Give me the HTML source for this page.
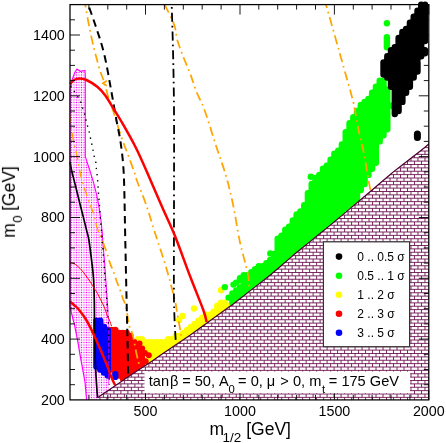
<!DOCTYPE html>
<html><head><meta charset="utf-8"><title>plot</title>
<style>html,body{margin:0;padding:0;background:#fff;overflow:hidden}body{width:446px;height:443px;position:relative;font-family:"Liberation Sans",sans-serif}</style></head>
<body>
<svg width="446" height="443" viewBox="0 0 446 443" style="position:absolute;left:0;top:0;font-family:'Liberation Sans',sans-serif">
<defs>
<pattern id="stip" patternUnits="userSpaceOnUse" x="1" y="2" width="5" height="5"><rect width="5" height="5" fill="#ffd0ff"/><rect x="0" y="0" width="1" height="1" fill="#ff00ff"/><rect x="1" y="0" width="1" height="1" fill="#ffd1ff"/><rect x="2" y="0" width="1" height="1" fill="#ff80ff"/><rect x="3" y="0" width="1" height="1" fill="#ff73ff"/><rect x="4" y="0" width="1" height="1" fill="#ffd1ff"/><rect x="0" y="1" width="1" height="1" fill="#ffd1ff"/><rect x="1" y="1" width="1" height="1" fill="#fff7ff"/><rect x="2" y="1" width="1" height="1" fill="#ffe8ff"/><rect x="3" y="1" width="1" height="1" fill="#ffe6ff"/><rect x="4" y="1" width="1" height="1" fill="#fff7ff"/><rect x="0" y="2" width="1" height="1" fill="#ff80ff"/><rect x="1" y="2" width="1" height="1" fill="#ffe8ff"/><rect x="2" y="2" width="1" height="1" fill="#ffbfff"/><rect x="3" y="2" width="1" height="1" fill="#ffb9ff"/><rect x="4" y="2" width="1" height="1" fill="#ffe8ff"/><rect x="0" y="3" width="1" height="1" fill="#ff73ff"/><rect x="1" y="3" width="1" height="1" fill="#ffe6ff"/><rect x="2" y="3" width="1" height="1" fill="#ffb9ff"/><rect x="3" y="3" width="1" height="1" fill="#ffb2ff"/><rect x="4" y="3" width="1" height="1" fill="#ffe6ff"/><rect x="0" y="4" width="1" height="1" fill="#ffd1ff"/><rect x="1" y="4" width="1" height="1" fill="#fff7ff"/><rect x="2" y="4" width="1" height="1" fill="#ffe8ff"/><rect x="3" y="4" width="1" height="1" fill="#ffe6ff"/><rect x="4" y="4" width="1" height="1" fill="#fff7ff"/></pattern>
<clipPath id="tri"><path d="M97.6 397.7L98 397.4L100 396L110 389.2L120 382.4L126 378.3L130 375.6L140 369L150 362.4L154 359.7L160 355.6L170 348.8L180 342L190 335.2L200 328L210 320.8L220 313.6L230 306.3L232 304.9L240 298.7L250 290.9L260 283.1L270 275.2L280 266.7L290 258.1L295 253.8L300 249.7L310 241.6L320 233.5L330 225.4L335 221.3L340 217.1L350 208.6L360 200.2L370 191.7L380 183.2L390 174.8L394 171.4L400 166.7L410 159L420 151.2L425 147.3L428.8 144L428.8 399.9L97.6 399.9Z"/></clipPath>
</defs>
<rect width="446" height="443" fill="#fff"/>
<path d="M70 89L72 80L75 72L77 69L80.2 71.3L85 70.5L85.3 75L85.3 156.6L89.7 170L93.6 182.6L96.8 195.3L99.2 207.9L101 220.5L102.3 233.2L102.8 242L104.7 263.7L106.3 287.4L107.9 310L108.8 325L108.8 385L108.8 399.9L86.6 399.9L85 382L83.4 373.2L80.5 357.4L77.8 341.6L74.7 325.8L70.7 310L70 307Z" fill="url(#stip)"/>
<path d="M134.2 345.9v0M138 339.1v24.3M141.8 339.1v27.4M145.5 342.1v21.3M149.3 342.1v18.2M153.1 342.1v15.2M156.9 342.1v12.2M160.6 342.1v12.2M164.4 342.1v9.1M168.2 339.1v9.1M172 339.1v6.1M175.8 336v6.1M179.5 336v3M183.3 333v6.1M187.1 330v6.1M190.9 326.9v6.1M194.6 323.9v6.1M198.4 320.8v6.1M202.2 317.8v6.1M206 314.8v6.1M209.7 314.8v3M213.5 311.7v3M217.3 305.6v9.1M221.1 302.6v9.1M224.9 302.6v6.1M228.6 305.6v0" fill="none" stroke="#ff0" stroke-width="6.4" stroke-linecap="round"/>
<circle cx="194" cy="308.5" r="3.2" fill="#ff0"/><circle cx="182.5" cy="316" r="3.2" fill="#ff0"/><circle cx="179.1" cy="320" r="3.2" fill="#ff0"/><circle cx="221" cy="290.2" r="3.2" fill="#ff0"/>
<path d="M228.6 297.6v0M232.4 293.5v9.1M236.2 290.4v9.1M240 278.3v0M240 287.4v9.1M243.7 275.2v18.2M247.5 275.2v15.2M251.3 272.2v15.2M255.1 269.1v15.2M258.8 266.1v15.2M262.6 266.1v12.2M266.4 263.1v12.2M270.2 260v12.2M273.9 253.9v15.2M277.7 238.7v27.4M281.5 235.7v27.4M285.3 229.6v30.4M289.1 226.6v30.4M292.8 220.5v33.4M296.6 214.4v36.5M300.4 211.4v36.5M304.2 205.3v39.5M307.9 193.1v48.7M311.7 184v54.7M315.5 177.9v57.8M319.3 174.9v57.8M323 168.8v60.8M326.8 165.8v60.8M330.6 159.7v63.9M334.4 153.6v66.9M338.2 150.6v66.9M341.9 144.5v69.9M345.7 132.3v76M349.5 123.2v82.1M353.3 117.1v85.1M357 111v88.2M360.8 104.9v85.1M364.6 101.9v82.1M368.4 98.9v76M372.1 92.8v76M375.9 86.7v76M379.7 80.6v60.8M383.5 80.6v54.7M387.3 89.7v39.5M391 105.8v0" fill="none" stroke="#0f0" stroke-width="6.4" stroke-linecap="round"/>
<circle cx="224.8" cy="287.1" r="3.2" fill="#0f0"/><circle cx="386.9" cy="23.3" r="3.2" fill="#0f0"/><circle cx="310.8" cy="176.7" r="3.2" fill="#0f0"/><circle cx="270.3" cy="253.4" r="3.2" fill="#0f0"/><circle cx="233.5" cy="284.6" r="3.2" fill="#0f0"/><circle cx="236.2" cy="282.6" r="3.2" fill="#0f0"/><circle cx="240" cy="280" r="3.2" fill="#0f0"/><circle cx="243.7" cy="277.6" r="3.2" fill="#0f0"/><circle cx="247.5" cy="275.2" r="3.2" fill="#0f0"/>
<path d="M386.9 37.3L386.9 47.2" stroke="#0f0" stroke-width="6.4" stroke-linecap="round" fill="none"/>
<path d="M383.5 62.4v12.2M387.3 56.3v21.3M391 50.2v36.5M394.8 47.2v66.9M398.6 38v73M402.4 32v69.9M406.1 28.9v63.9M409.9 22.8v63.9M413.7 16.8v60.8M417.5 10.7v48.7M417.5 62.4v9.1M421.2 4.6v51.7M425 4.6v36.5M425 50.2v3" fill="none" stroke="#000" stroke-width="6.4" stroke-linecap="round"/>
<path d="M417.4 134L417.4 137.5" stroke="#000" stroke-width="7" stroke-linecap="round" fill="none"/>
<path d="M111.5 330v39.5M115.3 330v42.6M119.1 333v42.6M122.9 333v45.6M126.7 333v42.6M130.4 336v36.5M134.2 342.1v27.4M138 348.2v21.3M141.8 354.3v12.2M145.5 361.4v0" fill="none" stroke="#f00" stroke-width="6.4" stroke-linecap="round"/>
<circle cx="148.8" cy="355.2" r="3" fill="#f00"/><circle cx="139.5" cy="343.5" r="3" fill="#f00"/><circle cx="142.2" cy="348.5" r="3" fill="#f00"/><circle cx="145" cy="353" r="3" fill="#f00"/>
<path d="M96.4 320.8v45.6M100.2 320.8v48.7M104 326.9v45.6M107.8 330v45.6" fill="none" stroke="#00f" stroke-width="6.4" stroke-linecap="round"/>
<path d="M115.3 374.2L115.3 377" stroke="#00f" stroke-width="6.2" stroke-linecap="round" fill="none"/>
<path d="M70 89C70 89 72 80 72 80C72 80 75 72 75 72C75 72 77 69 77 69C77 69 80.2 71.3 80.2 71.3C80.2 71.3 85 70.5 85 70.5C85 70.5 85.3 75 85.3 75C85.3 75 85.3 156.6 85.3 156.6C85.3 156.6 89.7 170 89.7 170C89.7 170 93.6 182.6 93.6 182.6C93.6 182.6 96.8 195.3 96.8 195.3C96.8 195.3 99.2 207.9 99.2 207.9C99.2 207.9 101 220.5 101 220.5C101 220.5 102.3 233.2 102.3 233.2C102.3 233.2 102.8 242 102.8 242C102.8 242 104.7 263.7 104.7 263.7C104.7 263.7 106.3 287.4 106.3 287.4C106.3 287.4 107.9 310 107.9 310" fill="none" stroke="#f0f" stroke-width="1.1"/>
<path d="M107.9 310C107.9 310 108.8 325 108.8 325C108.8 325 108.8 385 108.8 385" fill="none" stroke="#f0f" stroke-width="0.7"/>
<path d="M70 89C70 89 70 300 70 300C70 300 70 307 70 307C70 307 70.7 310 70.7 310C70.7 310 74.7 325.8 74.7 325.8C74.7 325.8 77.8 341.6 77.8 341.6C77.8 341.6 80.5 357.4 80.5 357.4C80.5 357.4 83.4 373.2 83.4 373.2C83.4 373.2 85 382 85 382C85 382 86.6 399.9 86.6 399.9" fill="none" stroke="#f0f" stroke-width="1.2"/>
<path d="M70 112C70 113 69.5 113.6 70 118C70.5 122.4 72 132.6 73 138.4C74 144.2 75.1 146.9 76.3 152.7C77.5 158.5 79.1 167.9 80.2 173C81.3 178.1 82.1 180.2 83 183.4C83.9 186.6 84.7 189 85.7 192C86.7 195 87.9 198.8 88.9 201.6C89.9 204.4 90.7 206.1 91.7 208.7C92.7 211.3 93.9 214.4 94.7 217.4C95.5 220.4 95.9 223.9 96.8 226.9C97.7 229.9 99 233 100 235.6C101 238.2 102.5 241.3 103 242.4" fill="none" stroke="#ffa500" stroke-width="1.4" stroke-dasharray="9 4 1.7 4" stroke-dashoffset="-2.4"/>
<path d="M103 242.4C103.7 244.2 105.8 249.9 107 253.4C108.2 256.9 109.1 260.7 110.2 263.7C111.3 266.7 112.3 268.7 113.4 271.6C114.5 274.5 115.5 278.1 116.6 281C117.6 283.9 118.7 286.1 119.7 289C120.8 291.9 121.9 295.5 122.9 298.5C124 301.5 125 302.6 126 307C127 311.4 128 320.7 129.1 325.2C130.2 329.7 131.6 330.9 132.5 334C133.4 337.1 133.9 340.7 134.6 344.1C135.3 347.5 135.9 351.2 136.6 354.3C137.3 357.4 138 360.1 138.6 362.4C139.2 364.7 139.8 367.1 140 368" fill="none" stroke="#ffa500" stroke-width="1.75" stroke-dasharray="9 4 1.7 4"/>
<path d="M85.2 4.7C85.9 8.4 87.8 19.4 89.3 27C90.8 34.5 92.6 42.8 94.4 50C96.2 57.2 98.3 65 100 70.5C101.7 76 103.4 79 104.7 83.2C106 87.4 106.5 91.1 107.9 95.8C109.4 100.5 111.2 104.8 113.4 111.6C115.6 118.4 118.8 129.5 121.3 136.9C123.8 144.3 126.2 149.8 128.4 155.8C130.6 161.9 133.2 168.8 134.7 173.2C136.2 177.6 135.5 176.8 137.4 182C139.3 187.2 143.1 195.9 146 204.3C148.9 212.7 151.5 221.9 154.8 232.3C158.1 242.8 162.7 255.8 166 267C169.3 278.2 172.8 291.7 174.7 299.3C176.5 306.9 176.4 308.6 177.1 312.6C177.8 316.6 178.4 319.6 179.1 323.5C179.8 327.4 180.8 333.7 181.2 335.7" fill="none" stroke="#ffa500" stroke-width="1.75" stroke-dasharray="9 4 1.7 4" stroke-dashoffset="6"/>
<path d="M164.7 4.7C166.3 8.1 172.1 19 174.2 24.8C176.3 30.6 175.7 34.3 177.2 39.7C178.7 45.1 181.2 51.4 183.4 57.1C185.6 62.8 188.1 68.2 190.3 74C192.5 79.8 194.1 85.9 196.5 91.9C198.9 97.9 201.3 101.2 204.5 110C207.7 118.8 212.2 133.9 215.7 144.7C219.2 155.4 222.7 164.6 225.6 174.5C228.5 184.4 230.7 193.4 233 204.3C235.3 215.2 237.6 230.9 239.5 240C241.4 249.1 242.9 253.7 244.2 259C245.5 264.3 246.6 267.8 247.4 271.6C248.2 275.4 248.7 279.4 249 282C249.3 284.6 249.2 286.2 249.3 287" fill="none" stroke="#ffa500" stroke-width="1.75" stroke-dasharray="9 4 1.7 4"/>
<path d="M326 4.7C328.1 12 334.1 33.1 338.4 48.5C342.7 63.9 349.3 86.8 352 97C354.7 107.2 353.7 104.2 354.8 109.7C355.9 115.2 357.1 122.9 358.6 130C360.1 137.1 362.2 144.7 363.7 152.3C365.2 159.9 366.6 169.4 367.7 175.7C368.8 182 369.9 187.6 370.4 190" fill="none" stroke="#ffa500" stroke-width="1.75" stroke-dasharray="9 4 1.7 4" stroke-dashoffset="5.5"/>
<path d="M106.8 80.8L102.8 83.3L106.8 85.8" fill="none" stroke="#ffa500" stroke-width="1.6"/>
<path d="M171.7 4.7C171.9 12.2 172.6 32.5 173 50C173.4 67.5 173.8 83.3 174 110C174.2 136.7 174 178.3 174 210C174 241.7 173.7 278.3 174 300C174.3 321.7 175.4 333.7 175.7 340.4" fill="none" stroke="#000" stroke-width="1.8" stroke-dasharray="9 4 1.7 4" stroke-dashoffset="10.5"/>
<path d="M88.2 4.7C89.5 8.4 93.3 18.8 96 27C98.7 35.2 101.7 43.8 104.2 54.2C106.7 64.6 109 78.4 111 89.4C113 100.4 114.8 111.3 116.4 120C118 128.7 119.4 134.1 120.5 141.6C121.6 149.1 122.6 156.9 123.2 165C123.8 173.1 124 178.2 124.3 190C124.6 201.8 124.8 216 125.2 236C125.6 256 126.4 291.8 126.8 310C127.2 328.2 127.4 334 127.6 345C127.8 356 128.1 370.8 128.2 376" fill="none" stroke="#000" stroke-width="2" stroke-dasharray="7.5 5" stroke-dashoffset="9.3"/>
<path d="M70.5 86C70.9 86.6 71.9 87.9 73 89.5C74.1 91.1 75.8 94 77 95.8C78.2 97.6 79.4 98.8 80.2 100.5C81 102.2 81.1 104 81.8 106C82.5 108 83.5 110.3 84.2 112.4C84.9 114.5 85.2 116.6 85.7 118.7C86.2 120.8 86.8 123 87.3 125C87.8 127 88.4 128.5 88.9 130.5C89.4 132.5 89.8 134.8 90.2 136.9C90.7 139 91.1 141.1 91.6 143.2C92 145.3 92.5 147.4 92.9 149.5C93.3 151.6 93.6 153.8 94.1 155.8C94.6 157.9 95.3 159.8 95.7 161.8C96.1 163.8 96.1 165.9 96.3 168C96.5 170.1 96.9 172.4 97.1 174.5C97.3 176.6 97.4 178.3 97.6 180.3C97.8 182.3 97.8 184.5 98 186.6C98.2 188.7 98.3 190.8 98.5 192.9C98.7 195 98.8 197 99 199.2C99.2 201.4 99.3 203.8 99.5 206C99.7 208.2 99.8 210.3 100 212.3C100.2 214.3 100.2 216.2 100.4 218.2C100.6 220.2 100.7 222.4 100.9 224.5C101.1 226.6 101.3 228.7 101.5 230.8C101.7 232.9 101.6 231.6 102 237C102.4 242.4 103.5 256.7 104 263C104.5 269.3 104.5 270.5 104.8 275C105.1 279.5 105.5 284.2 106 290C106.5 295.8 107.1 303.3 107.5 310C107.9 316.7 108.3 317.5 108.6 330C108.9 342.5 109.3 375.8 109.4 385" fill="none" stroke="#000" stroke-width="1.4" stroke-dasharray="1.4 4.8"/>
<path d="M70 162C70.2 163.3 70.6 166 71.5 170C72.4 174 74.2 180.5 75.5 185.8C76.8 191.1 78.1 196.3 79.4 201.6C80.7 206.9 82.2 212.7 83.4 217.4C84.6 222.1 85.6 226.2 86.5 230C87.4 233.8 88 234.4 88.9 240C89.8 245.6 91.2 257.1 92 263.7C92.8 270.3 93.2 273.4 93.6 279.5C94 285.6 94.1 291.6 94.3 300C94.5 308.4 94.4 320 94.6 330C94.8 340 94.9 350.8 95.2 360C95.5 369.2 96.2 378.7 96.6 385C97 391.3 97.4 395.8 97.6 398" fill="none" stroke="#000" stroke-width="1.7"/>
<path d="M70 262C70.9 262.4 73.5 263.1 75.5 264.5C77.5 265.9 79.4 267.6 81.8 270.4C84.2 273.1 87.5 277.9 89.7 281C91.9 284.1 93.4 287.1 94.7 289.2C96 291.3 96.1 290.8 97.6 293.7C99.1 296.6 102.3 302.7 103.9 306.3C105.5 309.9 106.2 312.8 107.1 315.1C108 317.4 108.7 318.2 109.4 320C110.1 321.8 111.2 325 111.5 326" fill="none" stroke="#f00" stroke-width="1.0"/>
<path d="M70 84C70.7 83.3 72.4 80.9 74 80C75.6 79.1 77.3 78.4 79.4 78.4C81.5 78.4 83.5 78.6 86.5 80C89.5 81.4 94.4 84.4 97.6 87C100.8 89.6 102.9 92.2 105.5 95.8C108.1 99.4 110.9 104.5 113.4 108.5C115.9 112.5 116.7 113.4 120.5 120C124.3 126.6 131.1 138.2 136 148C140.9 157.8 145.5 168.8 150 179C154.5 189.2 158.8 199.5 163 209C167.2 218.5 170.5 224.8 175 236C179.5 247.2 185.3 263.7 190 276C194.7 288.3 200.5 302.3 203.3 310C206.1 317.7 206.1 320 206.6 322" fill="none" stroke="#f00" stroke-width="2.5"/>
<path d="M70 301.6C70.7 302.2 72.5 303.6 74 305C75.5 306.4 76.9 307.2 78.9 309.7C81 312.2 84 316.1 86.3 320C88.6 323.9 90.7 328.2 93 333C95.3 337.8 98 343.8 100.2 349C102.5 354.2 104.4 358.8 106.5 364C108.6 369.2 111.1 376.5 112.6 380C114.1 383.5 114.8 384.3 115.3 385.2" fill="none" stroke="#f00" stroke-width="2.5"/>
<path d="M97.6 397.7L98 397.4L100 396L110 389.2L120 382.4L126 378.3L130 375.6L140 369L150 362.4L154 359.7L160 355.6L170 348.8L180 342L190 335.2L200 328L210 320.8L220 313.6L230 306.3L232 304.9L240 298.7L250 290.9L260 283.1L270 275.2L280 266.7L290 258.1L295 253.8L300 249.7L310 241.6L320 233.5L330 225.4L335 221.3L340 217.1L350 208.6L360 200.2L370 191.7L380 183.2L390 174.8L394 171.4L400 166.7L410 159L420 151.2L425 147.3L428.8 144L428.8 399.9L97.6 399.9Z" fill="#fff"/>
<g clip-path="url(#tri)" stroke="#670748" stroke-width="0.85" fill="none"><path d="M97 140.88H430M97 144.25H430M97 147.62H430M97 151H430M97 154.38H430M97 157.75H430M97 161.12H430M97 164.5H430M97 167.88H430M97 171.25H430M97 174.62H430M97 178H430M97 181.38H430M97 184.75H430M97 188.12H430M97 191.5H430M97 194.88H430M97 198.25H430M97 201.62H430M97 205H430M97 208.38H430M97 211.75H430M97 215.12H430M97 218.5H430M97 221.88H430M97 225.25H430M97 228.62H430M97 232H430M97 235.38H430M97 238.75H430M97 242.12H430M97 245.5H430M97 248.88H430M97 252.25H430M97 255.62H430M97 259H430M97 262.38H430M97 265.75H430M97 269.12H430M97 272.5H430M97 275.88H430M97 279.25H430M97 282.62H430M97 286H430M97 289.38H430M97 292.75H430M97 296.12H430M97 299.5H430M97 302.88H430M97 306.25H430M97 309.62H430M97 313H430M97 316.38H430M97 319.75H430M97 323.12H430M97 326.5H430M97 329.88H430M97 333.25H430M97 336.62H430M97 340H430M97 343.38H430M97 346.75H430M97 350.12H430M97 353.5H430M97 356.88H430M97 360.25H430M97 363.62H430M97 367H430M97 370.38H430M97 373.75H430M97 377.12H430M97 380.5H430M97 383.88H430M97 387.25H430M97 390.62H430M97 394H430M97 397.38H430"/><path d="M428.46 140.88v3.38M424.96 144.25v3.38M421.47 147.62v3.38M428.46 147.62v3.38M417.97 151v3.38M424.96 151v3.38M414.48 154.38v3.38M421.47 154.38v3.38M428.46 154.38v3.38M410.98 157.75v3.38M417.97 157.75v3.38M424.96 157.75v3.38M407.49 161.12v3.38M414.48 161.12v3.38M421.47 161.12v3.38M428.46 161.12v3.38M403.99 164.5v3.38M410.98 164.5v3.38M417.97 164.5v3.38M424.96 164.5v3.38M393.5 167.88v3.38M400.5 167.88v3.38M407.49 167.88v3.38M414.48 167.88v3.38M421.47 167.88v3.38M428.46 167.88v3.38M390.01 171.25v3.38M397 171.25v3.38M403.99 171.25v3.38M410.98 171.25v3.38M417.97 171.25v3.38M424.96 171.25v3.38M386.51 174.62v3.38M393.5 174.62v3.38M400.5 174.62v3.38M407.49 174.62v3.38M414.48 174.62v3.38M421.47 174.62v3.38M428.46 174.62v3.38M383.02 178v3.38M390.01 178v3.38M397 178v3.38M403.99 178v3.38M410.98 178v3.38M417.97 178v3.38M424.96 178v3.38M379.52 181.38v3.38M386.51 181.38v3.38M393.5 181.38v3.38M400.5 181.38v3.38M407.49 181.38v3.38M414.48 181.38v3.38M421.47 181.38v3.38M428.46 181.38v3.38M376.03 184.75v3.38M383.02 184.75v3.38M390.01 184.75v3.38M397 184.75v3.38M403.99 184.75v3.38M410.98 184.75v3.38M417.97 184.75v3.38M424.96 184.75v3.38M372.54 188.12v3.38M379.52 188.12v3.38M386.51 188.12v3.38M393.5 188.12v3.38M400.5 188.12v3.38M407.49 188.12v3.38M414.48 188.12v3.38M421.47 188.12v3.38M428.46 188.12v3.38M369.04 191.5v3.38M376.03 191.5v3.38M383.02 191.5v3.38M390.01 191.5v3.38M397 191.5v3.38M403.99 191.5v3.38M410.98 191.5v3.38M417.97 191.5v3.38M424.96 191.5v3.38M365.55 194.88v3.38M372.54 194.88v3.38M379.52 194.88v3.38M386.51 194.88v3.38M393.5 194.88v3.38M400.5 194.88v3.38M407.49 194.88v3.38M414.48 194.88v3.38M421.47 194.88v3.38M428.46 194.88v3.38M362.05 198.25v3.38M369.04 198.25v3.38M376.03 198.25v3.38M383.02 198.25v3.38M390.01 198.25v3.38M397 198.25v3.38M403.99 198.25v3.38M410.98 198.25v3.38M417.97 198.25v3.38M424.96 198.25v3.38M358.56 201.62v3.38M365.55 201.62v3.38M372.54 201.62v3.38M379.52 201.62v3.38M386.51 201.62v3.38M393.5 201.62v3.38M400.5 201.62v3.38M407.49 201.62v3.38M414.48 201.62v3.38M421.47 201.62v3.38M428.46 201.62v3.38M355.06 205v3.38M362.05 205v3.38M369.04 205v3.38M376.03 205v3.38M383.02 205v3.38M390.01 205v3.38M397 205v3.38M403.99 205v3.38M410.98 205v3.38M417.97 205v3.38M424.96 205v3.38M351.57 208.38v3.38M358.56 208.38v3.38M365.55 208.38v3.38M372.54 208.38v3.38M379.52 208.38v3.38M386.51 208.38v3.38M393.5 208.38v3.38M400.5 208.38v3.38M407.49 208.38v3.38M414.48 208.38v3.38M421.47 208.38v3.38M428.46 208.38v3.38M348.07 211.75v3.38M355.06 211.75v3.38M362.05 211.75v3.38M369.04 211.75v3.38M376.03 211.75v3.38M383.02 211.75v3.38M390.01 211.75v3.38M397 211.75v3.38M403.99 211.75v3.38M410.98 211.75v3.38M417.97 211.75v3.38M424.96 211.75v3.38M337.59 215.12v3.38M344.58 215.12v3.38M351.57 215.12v3.38M358.56 215.12v3.38M365.55 215.12v3.38M372.54 215.12v3.38M379.52 215.12v3.38M386.51 215.12v3.38M393.5 215.12v3.38M400.5 215.12v3.38M407.49 215.12v3.38M414.48 215.12v3.38M421.47 215.12v3.38M428.46 215.12v3.38M334.09 218.5v3.38M341.08 218.5v3.38M348.07 218.5v3.38M355.06 218.5v3.38M362.05 218.5v3.38M369.04 218.5v3.38M376.03 218.5v3.38M383.02 218.5v3.38M390.01 218.5v3.38M397 218.5v3.38M403.99 218.5v3.38M410.98 218.5v3.38M417.97 218.5v3.38M424.96 218.5v3.38M330.6 221.88v3.38M337.59 221.88v3.38M344.58 221.88v3.38M351.57 221.88v3.38M358.56 221.88v3.38M365.55 221.88v3.38M372.54 221.88v3.38M379.52 221.88v3.38M386.51 221.88v3.38M393.5 221.88v3.38M400.5 221.88v3.38M407.49 221.88v3.38M414.48 221.88v3.38M421.47 221.88v3.38M428.46 221.88v3.38M327.1 225.25v3.38M334.09 225.25v3.38M341.08 225.25v3.38M348.07 225.25v3.38M355.06 225.25v3.38M362.05 225.25v3.38M369.04 225.25v3.38M376.03 225.25v3.38M383.02 225.25v3.38M390.01 225.25v3.38M397 225.25v3.38M403.99 225.25v3.38M410.98 225.25v3.38M417.97 225.25v3.38M424.96 225.25v3.38M323.61 228.62v3.38M330.6 228.62v3.38M337.59 228.62v3.38M344.58 228.62v3.38M351.57 228.62v3.38M358.56 228.62v3.38M365.55 228.62v3.38M372.54 228.62v3.38M379.52 228.62v3.38M386.51 228.62v3.38M393.5 228.62v3.38M400.5 228.62v3.38M407.49 228.62v3.38M414.48 228.62v3.38M421.47 228.62v3.38M428.46 228.62v3.38M320.11 232v3.38M327.1 232v3.38M334.09 232v3.38M341.08 232v3.38M348.07 232v3.38M355.06 232v3.38M362.05 232v3.38M369.04 232v3.38M376.03 232v3.38M383.02 232v3.38M390.01 232v3.38M397 232v3.38M403.99 232v3.38M410.98 232v3.38M417.97 232v3.38M424.96 232v3.38M316.62 235.38v3.38M323.61 235.38v3.38M330.6 235.38v3.38M337.59 235.38v3.38M344.58 235.38v3.38M351.57 235.38v3.38M358.56 235.38v3.38M365.55 235.38v3.38M372.54 235.38v3.38M379.52 235.38v3.38M386.51 235.38v3.38M393.5 235.38v3.38M400.5 235.38v3.38M407.49 235.38v3.38M414.48 235.38v3.38M421.47 235.38v3.38M428.46 235.38v3.38M313.12 238.75v3.38M320.11 238.75v3.38M327.1 238.75v3.38M334.09 238.75v3.38M341.08 238.75v3.38M348.07 238.75v3.38M355.06 238.75v3.38M362.05 238.75v3.38M369.04 238.75v3.38M376.03 238.75v3.38M383.02 238.75v3.38M390.01 238.75v3.38M397 238.75v3.38M403.99 238.75v3.38M410.98 238.75v3.38M417.97 238.75v3.38M424.96 238.75v3.38M309.62 242.12v3.38M316.62 242.12v3.38M323.61 242.12v3.38M330.6 242.12v3.38M337.59 242.12v3.38M344.58 242.12v3.38M351.57 242.12v3.38M358.56 242.12v3.38M365.55 242.12v3.38M372.54 242.12v3.38M379.52 242.12v3.38M386.51 242.12v3.38M393.5 242.12v3.38M400.5 242.12v3.38M407.49 242.12v3.38M414.48 242.12v3.38M421.47 242.12v3.38M428.46 242.12v3.38M306.13 245.5v3.38M313.12 245.5v3.38M320.11 245.5v3.38M327.1 245.5v3.38M334.09 245.5v3.38M341.08 245.5v3.38M348.07 245.5v3.38M355.06 245.5v3.38M362.05 245.5v3.38M369.04 245.5v3.38M376.03 245.5v3.38M383.02 245.5v3.38M390.01 245.5v3.38M397 245.5v3.38M403.99 245.5v3.38M410.98 245.5v3.38M417.97 245.5v3.38M424.96 245.5v3.38M302.63 248.88v3.38M309.62 248.88v3.38M316.62 248.88v3.38M323.61 248.88v3.38M330.6 248.88v3.38M337.59 248.88v3.38M344.58 248.88v3.38M351.57 248.88v3.38M358.56 248.88v3.38M365.55 248.88v3.38M372.54 248.88v3.38M379.52 248.88v3.38M386.51 248.88v3.38M393.5 248.88v3.38M400.5 248.88v3.38M407.49 248.88v3.38M414.48 248.88v3.38M421.47 248.88v3.38M428.46 248.88v3.38M292.15 252.25v3.38M299.14 252.25v3.38M306.13 252.25v3.38M313.12 252.25v3.38M320.11 252.25v3.38M327.1 252.25v3.38M334.09 252.25v3.38M341.08 252.25v3.38M348.07 252.25v3.38M355.06 252.25v3.38M362.05 252.25v3.38M369.04 252.25v3.38M376.03 252.25v3.38M383.02 252.25v3.38M390.01 252.25v3.38M397 252.25v3.38M403.99 252.25v3.38M410.98 252.25v3.38M417.97 252.25v3.38M424.96 252.25v3.38M288.65 255.62v3.38M295.64 255.62v3.38M302.63 255.62v3.38M309.62 255.62v3.38M316.62 255.62v3.38M323.61 255.62v3.38M330.6 255.62v3.38M337.59 255.62v3.38M344.58 255.62v3.38M351.57 255.62v3.38M358.56 255.62v3.38M365.55 255.62v3.38M372.54 255.62v3.38M379.52 255.62v3.38M386.51 255.62v3.38M393.5 255.62v3.38M400.5 255.62v3.38M407.49 255.62v3.38M414.48 255.62v3.38M421.47 255.62v3.38M428.46 255.62v3.38M285.16 259v3.38M292.15 259v3.38M299.14 259v3.38M306.13 259v3.38M313.12 259v3.38M320.11 259v3.38M327.1 259v3.38M334.09 259v3.38M341.08 259v3.38M348.07 259v3.38M355.06 259v3.38M362.05 259v3.38M369.04 259v3.38M376.03 259v3.38M383.02 259v3.38M390.01 259v3.38M397 259v3.38M403.99 259v3.38M410.98 259v3.38M417.97 259v3.38M424.96 259v3.38M281.67 262.38v3.38M288.65 262.38v3.38M295.64 262.38v3.38M302.63 262.38v3.38M309.62 262.38v3.38M316.62 262.38v3.38M323.61 262.38v3.38M330.6 262.38v3.38M337.59 262.38v3.38M344.58 262.38v3.38M351.57 262.38v3.38M358.56 262.38v3.38M365.55 262.38v3.38M372.54 262.38v3.38M379.52 262.38v3.38M386.51 262.38v3.38M393.5 262.38v3.38M400.5 262.38v3.38M407.49 262.38v3.38M414.48 262.38v3.38M421.47 262.38v3.38M428.46 262.38v3.38M278.17 265.75v3.38M285.16 265.75v3.38M292.15 265.75v3.38M299.14 265.75v3.38M306.13 265.75v3.38M313.12 265.75v3.38M320.11 265.75v3.38M327.1 265.75v3.38M334.09 265.75v3.38M341.08 265.75v3.38M348.07 265.75v3.38M355.06 265.75v3.38M362.05 265.75v3.38M369.04 265.75v3.38M376.03 265.75v3.38M383.02 265.75v3.38M390.01 265.75v3.38M397 265.75v3.38M403.99 265.75v3.38M410.98 265.75v3.38M417.97 265.75v3.38M424.96 265.75v3.38M274.68 269.12v3.38M281.67 269.12v3.38M288.65 269.12v3.38M295.64 269.12v3.38M302.63 269.12v3.38M309.62 269.12v3.38M316.62 269.12v3.38M323.61 269.12v3.38M330.6 269.12v3.38M337.59 269.12v3.38M344.58 269.12v3.38M351.57 269.12v3.38M358.56 269.12v3.38M365.55 269.12v3.38M372.54 269.12v3.38M379.52 269.12v3.38M386.51 269.12v3.38M393.5 269.12v3.38M400.5 269.12v3.38M407.49 269.12v3.38M414.48 269.12v3.38M421.47 269.12v3.38M428.46 269.12v3.38M271.18 272.5v3.38M278.17 272.5v3.38M285.16 272.5v3.38M292.15 272.5v3.38M299.14 272.5v3.38M306.13 272.5v3.38M313.12 272.5v3.38M320.11 272.5v3.38M327.1 272.5v3.38M334.09 272.5v3.38M341.08 272.5v3.38M348.07 272.5v3.38M355.06 272.5v3.38M362.05 272.5v3.38M369.04 272.5v3.38M376.03 272.5v3.38M383.02 272.5v3.38M390.01 272.5v3.38M397 272.5v3.38M403.99 272.5v3.38M410.98 272.5v3.38M417.97 272.5v3.38M424.96 272.5v3.38M267.69 275.88v3.38M274.68 275.88v3.38M281.67 275.88v3.38M288.65 275.88v3.38M295.64 275.88v3.38M302.63 275.88v3.38M309.62 275.88v3.38M316.62 275.88v3.38M323.61 275.88v3.38M330.6 275.88v3.38M337.59 275.88v3.38M344.58 275.88v3.38M351.57 275.88v3.38M358.56 275.88v3.38M365.55 275.88v3.38M372.54 275.88v3.38M379.52 275.88v3.38M386.51 275.88v3.38M393.5 275.88v3.38M400.5 275.88v3.38M407.49 275.88v3.38M414.48 275.88v3.38M421.47 275.88v3.38M428.46 275.88v3.38M264.19 279.25v3.38M271.18 279.25v3.38M278.17 279.25v3.38M285.16 279.25v3.38M292.15 279.25v3.38M299.14 279.25v3.38M306.13 279.25v3.38M313.12 279.25v3.38M320.11 279.25v3.38M327.1 279.25v3.38M334.09 279.25v3.38M341.08 279.25v3.38M348.07 279.25v3.38M355.06 279.25v3.38M362.05 279.25v3.38M369.04 279.25v3.38M376.03 279.25v3.38M383.02 279.25v3.38M390.01 279.25v3.38M397 279.25v3.38M403.99 279.25v3.38M410.98 279.25v3.38M417.97 279.25v3.38M424.96 279.25v3.38M260.7 282.62v3.38M267.69 282.62v3.38M274.68 282.62v3.38M281.67 282.62v3.38M288.65 282.62v3.38M295.64 282.62v3.38M302.63 282.62v3.38M309.62 282.62v3.38M316.62 282.62v3.38M323.61 282.62v3.38M330.6 282.62v3.38M337.59 282.62v3.38M344.58 282.62v3.38M351.57 282.62v3.38M358.56 282.62v3.38M365.55 282.62v3.38M372.54 282.62v3.38M379.52 282.62v3.38M386.51 282.62v3.38M393.5 282.62v3.38M400.5 282.62v3.38M407.49 282.62v3.38M414.48 282.62v3.38M421.47 282.62v3.38M428.46 282.62v3.38M257.2 286v3.38M264.19 286v3.38M271.18 286v3.38M278.17 286v3.38M285.16 286v3.38M292.15 286v3.38M299.14 286v3.38M306.13 286v3.38M313.12 286v3.38M320.11 286v3.38M327.1 286v3.38M334.09 286v3.38M341.08 286v3.38M348.07 286v3.38M355.06 286v3.38M362.05 286v3.38M369.04 286v3.38M376.03 286v3.38M383.02 286v3.38M390.01 286v3.38M397 286v3.38M403.99 286v3.38M410.98 286v3.38M417.97 286v3.38M424.96 286v3.38M246.72 289.38v3.38M253.71 289.38v3.38M260.7 289.38v3.38M267.69 289.38v3.38M274.68 289.38v3.38M281.67 289.38v3.38M288.65 289.38v3.38M295.64 289.38v3.38M302.63 289.38v3.38M309.62 289.38v3.38M316.62 289.38v3.38M323.61 289.38v3.38M330.6 289.38v3.38M337.59 289.38v3.38M344.58 289.38v3.38M351.57 289.38v3.38M358.56 289.38v3.38M365.55 289.38v3.38M372.54 289.38v3.38M379.52 289.38v3.38M386.51 289.38v3.38M393.5 289.38v3.38M400.5 289.38v3.38M407.49 289.38v3.38M414.48 289.38v3.38M421.47 289.38v3.38M428.46 289.38v3.38M243.22 292.75v3.38M250.21 292.75v3.38M257.2 292.75v3.38M264.19 292.75v3.38M271.18 292.75v3.38M278.17 292.75v3.38M285.16 292.75v3.38M292.15 292.75v3.38M299.14 292.75v3.38M306.13 292.75v3.38M313.12 292.75v3.38M320.11 292.75v3.38M327.1 292.75v3.38M334.09 292.75v3.38M341.08 292.75v3.38M348.07 292.75v3.38M355.06 292.75v3.38M362.05 292.75v3.38M369.04 292.75v3.38M376.03 292.75v3.38M383.02 292.75v3.38M390.01 292.75v3.38M397 292.75v3.38M403.99 292.75v3.38M410.98 292.75v3.38M417.97 292.75v3.38M424.96 292.75v3.38M239.73 296.12v3.38M246.72 296.12v3.38M253.71 296.12v3.38M260.7 296.12v3.38M267.69 296.12v3.38M274.68 296.12v3.38M281.67 296.12v3.38M288.65 296.12v3.38M295.64 296.12v3.38M302.63 296.12v3.38M309.62 296.12v3.38M316.62 296.12v3.38M323.61 296.12v3.38M330.6 296.12v3.38M337.59 296.12v3.38M344.58 296.12v3.38M351.57 296.12v3.38M358.56 296.12v3.38M365.55 296.12v3.38M372.54 296.12v3.38M379.52 296.12v3.38M386.51 296.12v3.38M393.5 296.12v3.38M400.5 296.12v3.38M407.49 296.12v3.38M414.48 296.12v3.38M421.47 296.12v3.38M428.46 296.12v3.38M236.23 299.5v3.38M243.22 299.5v3.38M250.21 299.5v3.38M257.2 299.5v3.38M264.19 299.5v3.38M271.18 299.5v3.38M278.17 299.5v3.38M285.16 299.5v3.38M292.15 299.5v3.38M299.14 299.5v3.38M306.13 299.5v3.38M313.12 299.5v3.38M320.11 299.5v3.38M327.1 299.5v3.38M334.09 299.5v3.38M341.08 299.5v3.38M348.07 299.5v3.38M355.06 299.5v3.38M362.05 299.5v3.38M369.04 299.5v3.38M376.03 299.5v3.38M383.02 299.5v3.38M390.01 299.5v3.38M397 299.5v3.38M403.99 299.5v3.38M410.98 299.5v3.38M417.97 299.5v3.38M424.96 299.5v3.38M232.74 302.88v3.38M239.73 302.88v3.38M246.72 302.88v3.38M253.71 302.88v3.38M260.7 302.88v3.38M267.69 302.88v3.38M274.68 302.88v3.38M281.67 302.88v3.38M288.65 302.88v3.38M295.64 302.88v3.38M302.63 302.88v3.38M309.62 302.88v3.38M316.62 302.88v3.38M323.61 302.88v3.38M330.6 302.88v3.38M337.59 302.88v3.38M344.58 302.88v3.38M351.57 302.88v3.38M358.56 302.88v3.38M365.55 302.88v3.38M372.54 302.88v3.38M379.52 302.88v3.38M386.51 302.88v3.38M393.5 302.88v3.38M400.5 302.88v3.38M407.49 302.88v3.38M414.48 302.88v3.38M421.47 302.88v3.38M428.46 302.88v3.38M229.24 306.25v3.38M236.23 306.25v3.38M243.22 306.25v3.38M250.21 306.25v3.38M257.2 306.25v3.38M264.19 306.25v3.38M271.18 306.25v3.38M278.17 306.25v3.38M285.16 306.25v3.38M292.15 306.25v3.38M299.14 306.25v3.38M306.13 306.25v3.38M313.12 306.25v3.38M320.11 306.25v3.38M327.1 306.25v3.38M334.09 306.25v3.38M341.08 306.25v3.38M348.07 306.25v3.38M355.06 306.25v3.38M362.05 306.25v3.38M369.04 306.25v3.38M376.03 306.25v3.38M383.02 306.25v3.38M390.01 306.25v3.38M397 306.25v3.38M403.99 306.25v3.38M410.98 306.25v3.38M417.97 306.25v3.38M424.96 306.25v3.38M225.75 309.62v3.38M232.74 309.62v3.38M239.73 309.62v3.38M246.72 309.62v3.38M253.71 309.62v3.38M260.7 309.62v3.38M267.69 309.62v3.38M274.68 309.62v3.38M281.67 309.62v3.38M288.65 309.62v3.38M295.64 309.62v3.38M302.63 309.62v3.38M309.62 309.62v3.38M316.62 309.62v3.38M323.61 309.62v3.38M330.6 309.62v3.38M337.59 309.62v3.38M344.58 309.62v3.38M351.57 309.62v3.38M358.56 309.62v3.38M365.55 309.62v3.38M372.54 309.62v3.38M379.52 309.62v3.38M386.51 309.62v3.38M393.5 309.62v3.38M400.5 309.62v3.38M407.49 309.62v3.38M414.48 309.62v3.38M421.47 309.62v3.38M428.46 309.62v3.38M215.26 313v3.38M222.25 313v3.38M229.24 313v3.38M236.23 313v3.38M243.22 313v3.38M250.21 313v3.38M257.2 313v3.38M264.19 313v3.38M271.18 313v3.38M278.17 313v3.38M285.16 313v3.38M292.15 313v3.38M299.14 313v3.38M306.13 313v3.38M313.12 313v3.38M320.11 313v3.38M327.1 313v3.38M334.09 313v3.38M341.08 313v3.38M348.07 313v3.38M355.06 313v3.38M362.05 313v3.38M369.04 313v3.38M376.03 313v3.38M383.02 313v3.38M390.01 313v3.38M397 313v3.38M403.99 313v3.38M410.98 313v3.38M417.97 313v3.38M424.96 313v3.38M211.77 316.38v3.38M218.75 316.38v3.38M225.75 316.38v3.38M232.74 316.38v3.38M239.73 316.38v3.38M246.72 316.38v3.38M253.71 316.38v3.38M260.7 316.38v3.38M267.69 316.38v3.38M274.68 316.38v3.38M281.67 316.38v3.38M288.65 316.38v3.38M295.64 316.38v3.38M302.63 316.38v3.38M309.62 316.38v3.38M316.62 316.38v3.38M323.61 316.38v3.38M330.6 316.38v3.38M337.59 316.38v3.38M344.58 316.38v3.38M351.57 316.38v3.38M358.56 316.38v3.38M365.55 316.38v3.38M372.54 316.38v3.38M379.52 316.38v3.38M386.51 316.38v3.38M393.5 316.38v3.38M400.5 316.38v3.38M407.49 316.38v3.38M414.48 316.38v3.38M421.47 316.38v3.38M428.46 316.38v3.38M208.27 319.75v3.38M215.26 319.75v3.38M222.25 319.75v3.38M229.24 319.75v3.38M236.23 319.75v3.38M243.22 319.75v3.38M250.21 319.75v3.38M257.2 319.75v3.38M264.19 319.75v3.38M271.18 319.75v3.38M278.17 319.75v3.38M285.16 319.75v3.38M292.15 319.75v3.38M299.14 319.75v3.38M306.13 319.75v3.38M313.12 319.75v3.38M320.11 319.75v3.38M327.1 319.75v3.38M334.09 319.75v3.38M341.08 319.75v3.38M348.07 319.75v3.38M355.06 319.75v3.38M362.05 319.75v3.38M369.04 319.75v3.38M376.03 319.75v3.38M383.02 319.75v3.38M390.01 319.75v3.38M397 319.75v3.38M403.99 319.75v3.38M410.98 319.75v3.38M417.97 319.75v3.38M424.96 319.75v3.38M204.78 323.12v3.38M211.77 323.12v3.38M218.75 323.12v3.38M225.75 323.12v3.38M232.74 323.12v3.38M239.73 323.12v3.38M246.72 323.12v3.38M253.71 323.12v3.38M260.7 323.12v3.38M267.69 323.12v3.38M274.68 323.12v3.38M281.67 323.12v3.38M288.65 323.12v3.38M295.64 323.12v3.38M302.63 323.12v3.38M309.62 323.12v3.38M316.62 323.12v3.38M323.61 323.12v3.38M330.6 323.12v3.38M337.59 323.12v3.38M344.58 323.12v3.38M351.57 323.12v3.38M358.56 323.12v3.38M365.55 323.12v3.38M372.54 323.12v3.38M379.52 323.12v3.38M386.51 323.12v3.38M393.5 323.12v3.38M400.5 323.12v3.38M407.49 323.12v3.38M414.48 323.12v3.38M421.47 323.12v3.38M428.46 323.12v3.38M201.28 326.5v3.38M208.27 326.5v3.38M215.26 326.5v3.38M222.25 326.5v3.38M229.24 326.5v3.38M236.23 326.5v3.38M243.22 326.5v3.38M250.21 326.5v3.38M257.2 326.5v3.38M264.19 326.5v3.38M271.18 326.5v3.38M278.17 326.5v3.38M285.16 326.5v3.38M292.15 326.5v3.38M299.14 326.5v3.38M306.13 326.5v3.38M313.12 326.5v3.38M320.11 326.5v3.38M327.1 326.5v3.38M334.09 326.5v3.38M341.08 326.5v3.38M348.07 326.5v3.38M355.06 326.5v3.38M362.05 326.5v3.38M369.04 326.5v3.38M376.03 326.5v3.38M383.02 326.5v3.38M390.01 326.5v3.38M397 326.5v3.38M403.99 326.5v3.38M410.98 326.5v3.38M417.97 326.5v3.38M424.96 326.5v3.38M197.79 329.88v3.38M204.78 329.88v3.38M211.77 329.88v3.38M218.75 329.88v3.38M225.75 329.88v3.38M232.74 329.88v3.38M239.73 329.88v3.38M246.72 329.88v3.38M253.71 329.88v3.38M260.7 329.88v3.38M267.69 329.88v3.38M274.68 329.88v3.38M281.67 329.88v3.38M288.65 329.88v3.38M295.64 329.88v3.38M302.63 329.88v3.38M309.62 329.88v3.38M316.62 329.88v3.38M323.61 329.88v3.38M330.6 329.88v3.38M337.59 329.88v3.38M344.58 329.88v3.38M351.57 329.88v3.38M358.56 329.88v3.38M365.55 329.88v3.38M372.54 329.88v3.38M379.52 329.88v3.38M386.51 329.88v3.38M393.5 329.88v3.38M400.5 329.88v3.38M407.49 329.88v3.38M414.48 329.88v3.38M421.47 329.88v3.38M428.46 329.88v3.38M187.3 333.25v3.38M194.29 333.25v3.38M201.28 333.25v3.38M208.27 333.25v3.38M215.26 333.25v3.38M222.25 333.25v3.38M229.24 333.25v3.38M236.23 333.25v3.38M243.22 333.25v3.38M250.21 333.25v3.38M257.2 333.25v3.38M264.19 333.25v3.38M271.18 333.25v3.38M278.17 333.25v3.38M285.16 333.25v3.38M292.15 333.25v3.38M299.14 333.25v3.38M306.13 333.25v3.38M313.12 333.25v3.38M320.11 333.25v3.38M327.1 333.25v3.38M334.09 333.25v3.38M341.08 333.25v3.38M348.07 333.25v3.38M355.06 333.25v3.38M362.05 333.25v3.38M369.04 333.25v3.38M376.03 333.25v3.38M383.02 333.25v3.38M390.01 333.25v3.38M397 333.25v3.38M403.99 333.25v3.38M410.98 333.25v3.38M417.97 333.25v3.38M424.96 333.25v3.38M183.81 336.62v3.38M190.8 336.62v3.38M197.79 336.62v3.38M204.78 336.62v3.38M211.77 336.62v3.38M218.75 336.62v3.38M225.75 336.62v3.38M232.74 336.62v3.38M239.73 336.62v3.38M246.72 336.62v3.38M253.71 336.62v3.38M260.7 336.62v3.38M267.69 336.62v3.38M274.68 336.62v3.38M281.67 336.62v3.38M288.65 336.62v3.38M295.64 336.62v3.38M302.63 336.62v3.38M309.62 336.62v3.38M316.62 336.62v3.38M323.61 336.62v3.38M330.6 336.62v3.38M337.59 336.62v3.38M344.58 336.62v3.38M351.57 336.62v3.38M358.56 336.62v3.38M365.55 336.62v3.38M372.54 336.62v3.38M379.52 336.62v3.38M386.51 336.62v3.38M393.5 336.62v3.38M400.5 336.62v3.38M407.49 336.62v3.38M414.48 336.62v3.38M421.47 336.62v3.38M428.46 336.62v3.38M180.31 340v3.38M187.3 340v3.38M194.29 340v3.38M201.28 340v3.38M208.27 340v3.38M215.26 340v3.38M222.25 340v3.38M229.24 340v3.38M236.23 340v3.38M243.22 340v3.38M250.21 340v3.38M257.2 340v3.38M264.19 340v3.38M271.18 340v3.38M278.17 340v3.38M285.16 340v3.38M292.15 340v3.38M299.14 340v3.38M306.13 340v3.38M313.12 340v3.38M320.11 340v3.38M327.1 340v3.38M334.09 340v3.38M341.08 340v3.38M348.07 340v3.38M355.06 340v3.38M362.05 340v3.38M369.04 340v3.38M376.03 340v3.38M383.02 340v3.38M390.01 340v3.38M397 340v3.38M403.99 340v3.38M410.98 340v3.38M417.97 340v3.38M424.96 340v3.38M176.81 343.38v3.38M183.81 343.38v3.38M190.8 343.38v3.38M197.79 343.38v3.38M204.78 343.38v3.38M211.77 343.38v3.38M218.75 343.38v3.38M225.75 343.38v3.38M232.74 343.38v3.38M239.73 343.38v3.38M246.72 343.38v3.38M253.71 343.38v3.38M260.7 343.38v3.38M267.69 343.38v3.38M274.68 343.38v3.38M281.67 343.38v3.38M288.65 343.38v3.38M295.64 343.38v3.38M302.63 343.38v3.38M309.62 343.38v3.38M316.62 343.38v3.38M323.61 343.38v3.38M330.6 343.38v3.38M337.59 343.38v3.38M344.58 343.38v3.38M351.57 343.38v3.38M358.56 343.38v3.38M365.55 343.38v3.38M372.54 343.38v3.38M379.52 343.38v3.38M386.51 343.38v3.38M393.5 343.38v3.38M400.5 343.38v3.38M407.49 343.38v3.38M414.48 343.38v3.38M421.47 343.38v3.38M428.46 343.38v3.38M173.32 346.75v3.38M180.31 346.75v3.38M187.3 346.75v3.38M194.29 346.75v3.38M201.28 346.75v3.38M208.27 346.75v3.38M215.26 346.75v3.38M222.25 346.75v3.38M229.24 346.75v3.38M236.23 346.75v3.38M243.22 346.75v3.38M250.21 346.75v3.38M257.2 346.75v3.38M264.19 346.75v3.38M271.18 346.75v3.38M278.17 346.75v3.38M285.16 346.75v3.38M292.15 346.75v3.38M299.14 346.75v3.38M306.13 346.75v3.38M313.12 346.75v3.38M320.11 346.75v3.38M327.1 346.75v3.38M334.09 346.75v3.38M341.08 346.75v3.38M348.07 346.75v3.38M355.06 346.75v3.38M362.05 346.75v3.38M369.04 346.75v3.38M376.03 346.75v3.38M383.02 346.75v3.38M390.01 346.75v3.38M397 346.75v3.38M403.99 346.75v3.38M410.98 346.75v3.38M417.97 346.75v3.38M424.96 346.75v3.38M162.84 350.12v3.38M169.83 350.12v3.38M176.81 350.12v3.38M183.81 350.12v3.38M190.8 350.12v3.38M197.79 350.12v3.38M204.78 350.12v3.38M211.77 350.12v3.38M218.75 350.12v3.38M225.75 350.12v3.38M232.74 350.12v3.38M239.73 350.12v3.38M246.72 350.12v3.38M253.71 350.12v3.38M260.7 350.12v3.38M267.69 350.12v3.38M274.68 350.12v3.38M281.67 350.12v3.38M288.65 350.12v3.38M295.64 350.12v3.38M302.63 350.12v3.38M309.62 350.12v3.38M316.62 350.12v3.38M323.61 350.12v3.38M330.6 350.12v3.38M337.59 350.12v3.38M344.58 350.12v3.38M351.57 350.12v3.38M358.56 350.12v3.38M365.55 350.12v3.38M372.54 350.12v3.38M379.52 350.12v3.38M386.51 350.12v3.38M393.5 350.12v3.38M400.5 350.12v3.38M407.49 350.12v3.38M414.48 350.12v3.38M421.47 350.12v3.38M428.46 350.12v3.38M159.34 353.5v3.38M166.33 353.5v3.38M173.32 353.5v3.38M180.31 353.5v3.38M187.3 353.5v3.38M194.29 353.5v3.38M201.28 353.5v3.38M208.27 353.5v3.38M215.26 353.5v3.38M222.25 353.5v3.38M229.24 353.5v3.38M236.23 353.5v3.38M243.22 353.5v3.38M250.21 353.5v3.38M257.2 353.5v3.38M264.19 353.5v3.38M271.18 353.5v3.38M278.17 353.5v3.38M285.16 353.5v3.38M292.15 353.5v3.38M299.14 353.5v3.38M306.13 353.5v3.38M313.12 353.5v3.38M320.11 353.5v3.38M327.1 353.5v3.38M334.09 353.5v3.38M341.08 353.5v3.38M348.07 353.5v3.38M355.06 353.5v3.38M362.05 353.5v3.38M369.04 353.5v3.38M376.03 353.5v3.38M383.02 353.5v3.38M390.01 353.5v3.38M397 353.5v3.38M403.99 353.5v3.38M410.98 353.5v3.38M417.97 353.5v3.38M424.96 353.5v3.38M155.85 356.88v3.38M162.84 356.88v3.38M169.83 356.88v3.38M176.81 356.88v3.38M183.81 356.88v3.38M190.8 356.88v3.38M197.79 356.88v3.38M204.78 356.88v3.38M211.77 356.88v3.38M218.75 356.88v3.38M225.75 356.88v3.38M232.74 356.88v3.38M239.73 356.88v3.38M246.72 356.88v3.38M253.71 356.88v3.38M260.7 356.88v3.38M267.69 356.88v3.38M274.68 356.88v3.38M281.67 356.88v3.38M288.65 356.88v3.38M295.64 356.88v3.38M302.63 356.88v3.38M309.62 356.88v3.38M316.62 356.88v3.38M323.61 356.88v3.38M330.6 356.88v3.38M337.59 356.88v3.38M344.58 356.88v3.38M351.57 356.88v3.38M358.56 356.88v3.38M365.55 356.88v3.38M372.54 356.88v3.38M379.52 356.88v3.38M386.51 356.88v3.38M393.5 356.88v3.38M400.5 356.88v3.38M407.49 356.88v3.38M414.48 356.88v3.38M421.47 356.88v3.38M428.46 356.88v3.38M152.35 360.25v3.38M159.34 360.25v3.38M166.33 360.25v3.38M173.32 360.25v3.38M180.31 360.25v3.38M187.3 360.25v3.38M194.29 360.25v3.38M201.28 360.25v3.38M208.27 360.25v3.38M215.26 360.25v3.38M222.25 360.25v3.38M229.24 360.25v3.38M236.23 360.25v3.38M243.22 360.25v3.38M250.21 360.25v3.38M257.2 360.25v3.38M264.19 360.25v3.38M271.18 360.25v3.38M278.17 360.25v3.38M285.16 360.25v3.38M292.15 360.25v3.38M299.14 360.25v3.38M306.13 360.25v3.38M313.12 360.25v3.38M320.11 360.25v3.38M327.1 360.25v3.38M334.09 360.25v3.38M341.08 360.25v3.38M348.07 360.25v3.38M355.06 360.25v3.38M362.05 360.25v3.38M369.04 360.25v3.38M376.03 360.25v3.38M383.02 360.25v3.38M390.01 360.25v3.38M397 360.25v3.38M403.99 360.25v3.38M410.98 360.25v3.38M417.97 360.25v3.38M424.96 360.25v3.38M141.87 363.62v3.38M148.86 363.62v3.38M155.85 363.62v3.38M162.84 363.62v3.38M169.83 363.62v3.38M176.81 363.62v3.38M183.81 363.62v3.38M190.8 363.62v3.38M197.79 363.62v3.38M204.78 363.62v3.38M211.77 363.62v3.38M218.75 363.62v3.38M225.75 363.62v3.38M232.74 363.62v3.38M239.73 363.62v3.38M246.72 363.62v3.38M253.71 363.62v3.38M260.7 363.62v3.38M267.69 363.62v3.38M274.68 363.62v3.38M281.67 363.62v3.38M288.65 363.62v3.38M295.64 363.62v3.38M302.63 363.62v3.38M309.62 363.62v3.38M316.62 363.62v3.38M323.61 363.62v3.38M330.6 363.62v3.38M337.59 363.62v3.38M344.58 363.62v3.38M351.57 363.62v3.38M358.56 363.62v3.38M365.55 363.62v3.38M372.54 363.62v3.38M379.52 363.62v3.38M386.51 363.62v3.38M393.5 363.62v3.38M400.5 363.62v3.38M407.49 363.62v3.38M414.48 363.62v3.38M421.47 363.62v3.38M428.46 363.62v3.38M138.37 367v3.38M145.36 367v3.38M152.35 367v3.38M159.34 367v3.38M166.33 367v3.38M173.32 367v3.38M180.31 367v3.38M187.3 367v3.38M194.29 367v3.38M201.28 367v3.38M208.27 367v3.38M215.26 367v3.38M222.25 367v3.38M229.24 367v3.38M236.23 367v3.38M243.22 367v3.38M250.21 367v3.38M257.2 367v3.38M264.19 367v3.38M271.18 367v3.38M278.17 367v3.38M285.16 367v3.38M292.15 367v3.38M299.14 367v3.38M306.13 367v3.38M313.12 367v3.38M320.11 367v3.38M327.1 367v3.38M334.09 367v3.38M341.08 367v3.38M348.07 367v3.38M355.06 367v3.38M362.05 367v3.38M369.04 367v3.38M376.03 367v3.38M383.02 367v3.38M390.01 367v3.38M397 367v3.38M403.99 367v3.38M410.98 367v3.38M417.97 367v3.38M424.96 367v3.38M134.88 370.38v3.38M141.87 370.38v3.38M148.86 370.38v3.38M155.85 370.38v3.38M162.84 370.38v3.38M169.83 370.38v3.38M176.81 370.38v3.38M183.81 370.38v3.38M190.8 370.38v3.38M197.79 370.38v3.38M204.78 370.38v3.38M211.77 370.38v3.38M218.75 370.38v3.38M225.75 370.38v3.38M232.74 370.38v3.38M239.73 370.38v3.38M246.72 370.38v3.38M253.71 370.38v3.38M260.7 370.38v3.38M267.69 370.38v3.38M274.68 370.38v3.38M281.67 370.38v3.38M288.65 370.38v3.38M295.64 370.38v3.38M302.63 370.38v3.38M309.62 370.38v3.38M316.62 370.38v3.38M323.61 370.38v3.38M330.6 370.38v3.38M337.59 370.38v3.38M344.58 370.38v3.38M351.57 370.38v3.38M358.56 370.38v3.38M365.55 370.38v3.38M372.54 370.38v3.38M379.52 370.38v3.38M386.51 370.38v3.38M393.5 370.38v3.38M400.5 370.38v3.38M407.49 370.38v3.38M414.48 370.38v3.38M421.47 370.38v3.38M428.46 370.38v3.38M131.38 373.75v3.38M138.37 373.75v3.38M145.36 373.75v3.38M152.35 373.75v3.38M159.34 373.75v3.38M166.33 373.75v3.38M173.32 373.75v3.38M180.31 373.75v3.38M187.3 373.75v3.38M194.29 373.75v3.38M201.28 373.75v3.38M208.27 373.75v3.38M215.26 373.75v3.38M222.25 373.75v3.38M229.24 373.75v3.38M236.23 373.75v3.38M243.22 373.75v3.38M250.21 373.75v3.38M257.2 373.75v3.38M264.19 373.75v3.38M271.18 373.75v3.38M278.17 373.75v3.38M285.16 373.75v3.38M292.15 373.75v3.38M299.14 373.75v3.38M306.13 373.75v3.38M313.12 373.75v3.38M320.11 373.75v3.38M327.1 373.75v3.38M334.09 373.75v3.38M341.08 373.75v3.38M348.07 373.75v3.38M355.06 373.75v3.38M362.05 373.75v3.38M369.04 373.75v3.38M376.03 373.75v3.38M383.02 373.75v3.38M390.01 373.75v3.38M397 373.75v3.38M403.99 373.75v3.38M410.98 373.75v3.38M417.97 373.75v3.38M424.96 373.75v3.38M127.89 377.12v3.38M134.88 377.12v3.38M141.87 377.12v3.38M148.86 377.12v3.38M155.85 377.12v3.38M162.84 377.12v3.38M169.83 377.12v3.38M176.81 377.12v3.38M183.81 377.12v3.38M190.8 377.12v3.38M197.79 377.12v3.38M204.78 377.12v3.38M211.77 377.12v3.38M218.75 377.12v3.38M225.75 377.12v3.38M232.74 377.12v3.38M239.73 377.12v3.38M246.72 377.12v3.38M253.71 377.12v3.38M260.7 377.12v3.38M267.69 377.12v3.38M274.68 377.12v3.38M281.67 377.12v3.38M288.65 377.12v3.38M295.64 377.12v3.38M302.63 377.12v3.38M309.62 377.12v3.38M316.62 377.12v3.38M323.61 377.12v3.38M330.6 377.12v3.38M337.59 377.12v3.38M344.58 377.12v3.38M351.57 377.12v3.38M358.56 377.12v3.38M365.55 377.12v3.38M372.54 377.12v3.38M379.52 377.12v3.38M386.51 377.12v3.38M393.5 377.12v3.38M400.5 377.12v3.38M407.49 377.12v3.38M414.48 377.12v3.38M421.47 377.12v3.38M428.46 377.12v3.38M117.4 380.5v3.38M124.39 380.5v3.38M131.38 380.5v3.38M138.37 380.5v3.38M145.36 380.5v3.38M152.35 380.5v3.38M159.34 380.5v3.38M166.33 380.5v3.38M173.32 380.5v3.38M180.31 380.5v3.38M187.3 380.5v3.38M194.29 380.5v3.38M201.28 380.5v3.38M208.27 380.5v3.38M215.26 380.5v3.38M222.25 380.5v3.38M229.24 380.5v3.38M236.23 380.5v3.38M243.22 380.5v3.38M250.21 380.5v3.38M257.2 380.5v3.38M264.19 380.5v3.38M271.18 380.5v3.38M278.17 380.5v3.38M285.16 380.5v3.38M292.15 380.5v3.38M299.14 380.5v3.38M306.13 380.5v3.38M313.12 380.5v3.38M320.11 380.5v3.38M327.1 380.5v3.38M334.09 380.5v3.38M341.08 380.5v3.38M348.07 380.5v3.38M355.06 380.5v3.38M362.05 380.5v3.38M369.04 380.5v3.38M376.03 380.5v3.38M383.02 380.5v3.38M390.01 380.5v3.38M397 380.5v3.38M403.99 380.5v3.38M410.98 380.5v3.38M417.97 380.5v3.38M424.96 380.5v3.38M113.91 383.88v3.38M120.9 383.88v3.38M127.89 383.88v3.38M134.88 383.88v3.38M141.87 383.88v3.38M148.86 383.88v3.38M155.85 383.88v3.38M162.84 383.88v3.38M169.83 383.88v3.38M176.81 383.88v3.38M183.81 383.88v3.38M190.8 383.88v3.38M197.79 383.88v3.38M204.78 383.88v3.38M211.77 383.88v3.38M218.75 383.88v3.38M225.75 383.88v3.38M232.74 383.88v3.38M239.73 383.88v3.38M246.72 383.88v3.38M253.71 383.88v3.38M260.7 383.88v3.38M267.69 383.88v3.38M274.68 383.88v3.38M281.67 383.88v3.38M288.65 383.88v3.38M295.64 383.88v3.38M302.63 383.88v3.38M309.62 383.88v3.38M316.62 383.88v3.38M323.61 383.88v3.38M330.6 383.88v3.38M337.59 383.88v3.38M344.58 383.88v3.38M351.57 383.88v3.38M358.56 383.88v3.38M365.55 383.88v3.38M372.54 383.88v3.38M379.52 383.88v3.38M386.51 383.88v3.38M393.5 383.88v3.38M400.5 383.88v3.38M407.49 383.88v3.38M414.48 383.88v3.38M421.47 383.88v3.38M428.46 383.88v3.38M110.41 387.25v3.38M117.4 387.25v3.38M124.39 387.25v3.38M131.38 387.25v3.38M138.37 387.25v3.38M145.36 387.25v3.38M152.35 387.25v3.38M159.34 387.25v3.38M166.33 387.25v3.38M173.32 387.25v3.38M180.31 387.25v3.38M187.3 387.25v3.38M194.29 387.25v3.38M201.28 387.25v3.38M208.27 387.25v3.38M215.26 387.25v3.38M222.25 387.25v3.38M229.24 387.25v3.38M236.23 387.25v3.38M243.22 387.25v3.38M250.21 387.25v3.38M257.2 387.25v3.38M264.19 387.25v3.38M271.18 387.25v3.38M278.17 387.25v3.38M285.16 387.25v3.38M292.15 387.25v3.38M299.14 387.25v3.38M306.13 387.25v3.38M313.12 387.25v3.38M320.11 387.25v3.38M327.1 387.25v3.38M334.09 387.25v3.38M341.08 387.25v3.38M348.07 387.25v3.38M355.06 387.25v3.38M362.05 387.25v3.38M369.04 387.25v3.38M376.03 387.25v3.38M383.02 387.25v3.38M390.01 387.25v3.38M397 387.25v3.38M403.99 387.25v3.38M410.98 387.25v3.38M417.97 387.25v3.38M424.96 387.25v3.38M106.92 390.62v3.38M113.91 390.62v3.38M120.9 390.62v3.38M127.89 390.62v3.38M134.88 390.62v3.38M141.87 390.62v3.38M148.86 390.62v3.38M155.85 390.62v3.38M162.84 390.62v3.38M169.83 390.62v3.38M176.81 390.62v3.38M183.81 390.62v3.38M190.8 390.62v3.38M197.79 390.62v3.38M204.78 390.62v3.38M211.77 390.62v3.38M218.75 390.62v3.38M225.75 390.62v3.38M232.74 390.62v3.38M239.73 390.62v3.38M246.72 390.62v3.38M253.71 390.62v3.38M260.7 390.62v3.38M267.69 390.62v3.38M274.68 390.62v3.38M281.67 390.62v3.38M288.65 390.62v3.38M295.64 390.62v3.38M302.63 390.62v3.38M309.62 390.62v3.38M316.62 390.62v3.38M323.61 390.62v3.38M330.6 390.62v3.38M337.59 390.62v3.38M344.58 390.62v3.38M351.57 390.62v3.38M358.56 390.62v3.38M365.55 390.62v3.38M372.54 390.62v3.38M379.52 390.62v3.38M386.51 390.62v3.38M393.5 390.62v3.38M400.5 390.62v3.38M407.49 390.62v3.38M414.48 390.62v3.38M421.47 390.62v3.38M428.46 390.62v3.38M103.42 394v3.38M110.41 394v3.38M117.4 394v3.38M124.39 394v3.38M131.38 394v3.38M138.37 394v3.38M145.36 394v3.38M152.35 394v3.38M159.34 394v3.38M166.33 394v3.38M173.32 394v3.38M180.31 394v3.38M187.3 394v3.38M194.29 394v3.38M201.28 394v3.38M208.27 394v3.38M215.26 394v3.38M222.25 394v3.38M229.24 394v3.38M236.23 394v3.38M243.22 394v3.38M250.21 394v3.38M257.2 394v3.38M264.19 394v3.38M271.18 394v3.38M278.17 394v3.38M285.16 394v3.38M292.15 394v3.38M299.14 394v3.38M306.13 394v3.38M313.12 394v3.38M320.11 394v3.38M327.1 394v3.38M334.09 394v3.38M341.08 394v3.38M348.07 394v3.38M355.06 394v3.38M362.05 394v3.38M369.04 394v3.38M376.03 394v3.38M383.02 394v3.38M390.01 394v3.38M397 394v3.38M403.99 394v3.38M410.98 394v3.38M417.97 394v3.38M424.96 394v3.38M99.93 397.38v3.38M106.92 397.38v3.38M113.91 397.38v3.38M120.9 397.38v3.38M127.89 397.38v3.38M134.88 397.38v3.38M141.87 397.38v3.38M148.86 397.38v3.38M155.85 397.38v3.38M162.84 397.38v3.38M169.83 397.38v3.38M176.81 397.38v3.38M183.81 397.38v3.38M190.8 397.38v3.38M197.79 397.38v3.38M204.78 397.38v3.38M211.77 397.38v3.38M218.75 397.38v3.38M225.75 397.38v3.38M232.74 397.38v3.38M239.73 397.38v3.38M246.72 397.38v3.38M253.71 397.38v3.38M260.7 397.38v3.38M267.69 397.38v3.38M274.68 397.38v3.38M281.67 397.38v3.38M288.65 397.38v3.38M295.64 397.38v3.38M302.63 397.38v3.38M309.62 397.38v3.38M316.62 397.38v3.38M323.61 397.38v3.38M330.6 397.38v3.38M337.59 397.38v3.38M344.58 397.38v3.38M351.57 397.38v3.38M358.56 397.38v3.38M365.55 397.38v3.38M372.54 397.38v3.38M379.52 397.38v3.38M386.51 397.38v3.38M393.5 397.38v3.38M400.5 397.38v3.38M407.49 397.38v3.38M414.48 397.38v3.38M421.47 397.38v3.38M428.46 397.38v3.38"/></g>
<path d="M97.6 397.7L98 397.4L100 396L110 389.2L120 382.4L126 378.3L130 375.6L140 369L150 362.4L154 359.7L160 355.6L170 348.8L180 342L190 335.2L200 328L210 320.8L220 313.6L230 306.3L232 304.9L240 298.7L250 290.9L260 283.1L270 275.2L280 266.7L290 258.1L295 253.8L300 249.7L310 241.6L320 233.5L330 225.4L335 221.3L340 217.1L350 208.6L360 200.2L370 191.7L380 183.2L390 174.8L394 171.4L400 166.7L410 159L420 151.2L425 147.3L428.8 144" fill="none" stroke="#4a0030" stroke-width="1.2"/>
<path d="M88.9 4.6v5M88.9 399.9v-5M107.8 4.6v5M107.8 399.9v-5M126.7 4.6v5M126.7 399.9v-5M145.5 4.6v10M145.5 399.9v-10M164.4 4.6v5M164.4 399.9v-5M183.3 4.6v5M183.3 399.9v-5M202.2 4.6v5M202.2 399.9v-5M221.1 4.6v5M221.1 399.9v-5M240 4.6v10M240 399.9v-10M258.8 4.6v5M258.8 399.9v-5M277.7 4.6v5M277.7 399.9v-5M296.6 4.6v5M296.6 399.9v-5M315.5 4.6v5M315.5 399.9v-5M334.4 4.6v10M334.4 399.9v-10M353.3 4.6v5M353.3 399.9v-5M372.1 4.6v5M372.1 399.9v-5M391 4.6v5M391 399.9v-5M409.9 4.6v5M409.9 399.9v-5M428.8 4.6v10M428.8 399.9v-10M70 384.7h5M428.8 384.7h-5M70 369.5h5M428.8 369.5h-5M70 354.3h5M428.8 354.3h-5M70 339.1h10M428.8 339.1h-10M70 323.9h5M428.8 323.9h-5M70 308.7h5M428.8 308.7h-5M70 293.5h5M428.8 293.5h-5M70 278.3h10M428.8 278.3h-10M70 263.1h5M428.8 263.1h-5M70 247.9h5M428.8 247.9h-5M70 232.7h5M428.8 232.7h-5M70 217.5h10M428.8 217.5h-10M70 202.2h5M428.8 202.2h-5M70 187h5M428.8 187h-5M70 171.8h5M428.8 171.8h-5M70 156.6h10M428.8 156.6h-10M70 141.4h5M428.8 141.4h-5M70 126.2h5M428.8 126.2h-5M70 111h5M428.8 111h-5M70 95.8h10M428.8 95.8h-10M70 80.6h5M428.8 80.6h-5M70 65.4h5M428.8 65.4h-5M70 50.2h5M428.8 50.2h-5M70 35h10M428.8 35h-10M70 19.8h5M428.8 19.8h-5" stroke="#000" stroke-width="0.9" fill="none"/>
<rect x="70" y="4.6" width="358.8" height="395.3" fill="none" stroke="#000" stroke-width="1.25"/>
<path d="M70 89V307" stroke="#f0f" stroke-width="1.2" opacity="0.2"/>
<g opacity="0.999">
<rect x="323.4" y="241.8" width="86.2" height="104.9" fill="#fff" stroke="#333" stroke-width="1.2"/>
<circle cx="339" cy="256.6" r="3.3" fill="#000"/>
<text x="357.3" y="261" font-size="12">0 .. 0.5 σ</text>
<circle cx="339" cy="275.7" r="3.3" fill="#0f0"/>
<text x="357.3" y="280.1" font-size="12">0.5 .. 1 σ</text>
<circle cx="339" cy="294.7" r="3.3" fill="#ff0"/>
<text x="357.3" y="299.1" font-size="12">1 .. 2 σ</text>
<circle cx="339" cy="313.8" r="3.3" fill="#f00"/>
<text x="357.3" y="318.1" font-size="12">2 .. 3 σ</text>
<circle cx="339" cy="332.8" r="3.3" fill="#00f"/>
<text x="357.3" y="337.2" font-size="12">3 .. 5 σ</text>
<rect x="144.5" y="371.5" width="265.6" height="21.7" fill="#fff"/>
<text x="148.8" y="386.4" font-size="14.6">tan<tspan dx="0.8">β</tspan><tspan dx="-0.2"> = 50, A</tspan><tspan font-size="11.3" dy="6.8" dx="-0.3">0</tspan><tspan dy="-6.8" dx="-0.8"> = 0, μ</tspan><tspan dx="1"> &gt; 0, m</tspan><tspan font-size="11.3" dy="6.8" dx="0.6">t</tspan><tspan dy="-6.8" dx="-0.3"> = 175 GeV</tspan></text>
<text x="64.8" y="404.8" font-size="14.3" text-anchor="end">200</text>
<text x="64.8" y="344" font-size="14.3" text-anchor="end">400</text>
<text x="64.8" y="283.2" font-size="14.3" text-anchor="end">600</text>
<text x="64.8" y="222.4" font-size="14.3" text-anchor="end">800</text>
<text x="64.8" y="161.5" font-size="14.3" text-anchor="end">1000</text>
<text x="64.8" y="100.7" font-size="14.3" text-anchor="end">1200</text>
<text x="64.8" y="39.9" font-size="14.3" text-anchor="end">1400</text>
<text x="145.5" y="415.9" font-size="14.3" text-anchor="middle">500</text>
<text x="240" y="415.9" font-size="14.3" text-anchor="middle">1000</text>
<text x="334.4" y="415.9" font-size="14.3" text-anchor="middle">1500</text>
<text x="428.8" y="415.9" font-size="14.3" text-anchor="middle">2000</text>
<text x="209.5" y="435" font-size="17.5">m<tspan font-size="13.5" dy="6.8" dx="-1.5">1/2</tspan><tspan dy="-6.8"> [GeV]</tspan></text>
<text transform="translate(14.9 237.8) rotate(-90)" font-size="17.5">m<tspan font-size="13.5" dy="7.2" dx="0.5">0</tspan><tspan dy="-7.2" dx="-0.5"> [GeV]</tspan></text>
</g>
</svg>
</body></html>
